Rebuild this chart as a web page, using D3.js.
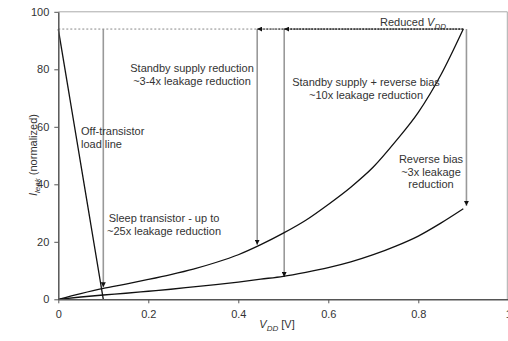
<!DOCTYPE html>
<meta charset="utf-8">
<style>
body { margin: 0; background: #fff; }
text { font-family: "Liberation Sans", Arial, sans-serif; font-size: 11px; fill: #333; }
.axis path, .axis line { stroke: #555; }
.axis text { font-size: 11px; fill: #333; }
</style>
<svg width="508" height="341"></svg>
<script src="https://d3js.org/d3.v7.min.js"></script>
<script>
// leakage current vs supply voltage, two curves + annotations
var vdd = [0, 0.05, 0.1, 0.15, 0.2, 0.25, 0.3, 0.35, 0.4, 0.45, 0.5, 0.55, 0.6, 0.65, 0.7, 0.75, 0.8, 0.85, 0.9];
var nominal = [0, 2.0, 3.8, 5.3, 6.9, 8.6, 10.5, 12.8, 15.5, 19, 23, 27.5, 33, 39, 46, 55, 65, 78, 94];
var reverseBias = [0, 0.8, 1.5, 2.1, 2.8, 3.5, 4.3, 5.1, 6.0, 7.0, 8.0, 9.4, 11, 13, 15.5, 18.5, 22, 26.5, 31.5];
var loadLine = [[0, 94], [0.1, 0]];
var topLevel = 94;
// vertical arrows: x, from, to
var downArrows = [[0.1, 94, 4.2], [0.442, 94, 19], [0.502, 94, 7.8], [0.907, 94, 32.5]];
// horizontal arrows on dotted line: from x, to x
var leftArrows = [[0.9, 0.442], [0.9, 0.502]];
var xTicks = [0, 0.2, 0.4, 0.6, 0.8, 1];
var yTicks = [0, 20, 40, 60, 80, 100];

var svg = d3.select("svg");
var x = d3.scaleLinear().domain([0, 1]).range([58.3, 508.3]);
var y = d3.scaleLinear().domain([0, 100]).range([299.3, 11.8]);

var defs = svg.append("defs");
defs.append("marker")
    .attr("id", "arr")
    .attr("viewBox", "0 0 10 10")
    .attr("refX", 10).attr("refY", 5)
    .attr("markerWidth", 5).attr("markerHeight", 5)
    .attr("markerUnits", "userSpaceOnUse")
    .attr("orient", "auto")
  .append("path")
    .attr("d", "M0,0L10,5L0,10Z")
    .attr("fill", "#111");

// frame top + right
svg.append("path")
    .attr("d", "M" + x(0) + "," + y(100) + "H" + (x(1) - 1) + "V" + y(0))
    .attr("fill", "none").attr("stroke", "#aaa").attr("stroke-width", 1);

// gray dotted level line
svg.append("line")
    .attr("x1", x(0)).attr("x2", x(0.9))
    .attr("y1", y(topLevel)).attr("y2", y(topLevel))
    .attr("stroke", "#888").attr("stroke-width", 1).attr("stroke-dasharray", "2,2");

// gray vertical arrows
svg.append("g").selectAll("line")
    .data(downArrows)
  .enter().append("line")
    .attr("x1", function(d) { return x(d[0]); })
    .attr("x2", function(d) { return x(d[0]); })
    .attr("y1", function(d) { return y(d[1]); })
    .attr("y2", function(d) { return y(d[2]); })
    .attr("stroke", "#999").attr("stroke-width", 1.6)
    .attr("marker-end", "url(#arr)");

// black dotted arrows pointing left
svg.append("g").selectAll("line")
    .data(leftArrows)
  .enter().append("line")
    .attr("x1", function(d) { return x(d[0]); })
    .attr("x2", function(d) { return x(d[1]); })
    .attr("y1", y(topLevel)).attr("y2", y(topLevel))
    .attr("stroke", "#222").attr("stroke-width", 1).attr("stroke-dasharray", "2,1")
    .attr("marker-end", "url(#arr)");

var line = d3.line()
    .x(function(d) { return x(d[0]); })
    .y(function(d) { return y(d[1]); })
    .curve(d3.curveMonotoneX);

[nominal, reverseBias].forEach(function(s) {
  svg.append("path")
      .datum(vdd.map(function(v, i) { return [v, s[i]]; }))
      .attr("d", line)
      .attr("fill", "none").attr("stroke", "#111").attr("stroke-width", 1.3);
});

svg.append("path")
    .datum(loadLine)
    .attr("d", d3.line().x(function(d) { return x(d[0]); }).y(function(d) { return y(d[1]); }))
    .attr("fill", "none").attr("stroke", "#111").attr("stroke-width", 1.3);

// axes
svg.append("g")
    .attr("class", "axis")
    .attr("transform", "translate(0," + y(0) + ")")
    .call(d3.axisBottom(x).tickValues(xTicks).tickSize(4).tickSizeOuter(0)
      .tickFormat(function(d) { return String(+d.toFixed(1)); }))
    .call(function(g) { g.selectAll("text").attr("dy", "1.1em"); });

svg.append("g")
    .attr("class", "axis")
    .attr("transform", "translate(" + x(0) + ",0)")
    .call(d3.axisLeft(y).tickValues(yTicks).tickSize(4).tickSizeOuter(0))
    .call(function(g) { g.selectAll("text").attr("x", -9); });

svg.selectAll(".axis path").attr("stroke-width", 1.5);

// annotations
function label(lines, cx, cy, anchor) {
  var t = svg.append("text").attr("text-anchor", anchor || "middle");
  lines.forEach(function(s, i) {
    t.append("tspan").attr("x", cx).attr("y", cy + i * 12.7).text(s);
  });
  return t;
}
label(["Standby supply reduction", "~3-4x leakage reduction"], 192, 72);
label(["Standby supply + reverse bias", "~10x leakage reduction"], 366, 86);
label(["Off-transistor", "load line"], 81, 135, "start");
label(["Reverse bias", "~3x leakage", "reduction"], 431, 163);
label(["Sleep transistor - up to", "~25x leakage reduction"], 164, 222);

var rv = svg.append("text").attr("x", 413).attr("y", 26).attr("text-anchor", "middle");
rv.append("tspan").text("Reduced ");
rv.append("tspan").attr("font-style", "italic").text("V");
rv.append("tspan").attr("font-style", "italic").attr("font-size", "8px").attr("dy", 3).text("DD");

var xl = svg.append("text").attr("x", 277).attr("y", 328).attr("text-anchor", "middle");
xl.append("tspan").attr("font-style", "italic").text("V");
xl.append("tspan").attr("font-style", "italic").attr("font-size", "8px").attr("dy", 3).text("DD");
xl.append("tspan").attr("dy", -3).text(" [V]");

var yl = svg.append("text")
    .attr("transform", "translate(37,155) rotate(-90)")
    .attr("text-anchor", "middle");
yl.append("tspan").attr("font-style", "italic").text("I");
yl.append("tspan").attr("font-style", "italic").attr("font-size", "8px").attr("dy", 3).text("leak");
yl.append("tspan").attr("dy", -3).text(" (normalized)");
</script>
